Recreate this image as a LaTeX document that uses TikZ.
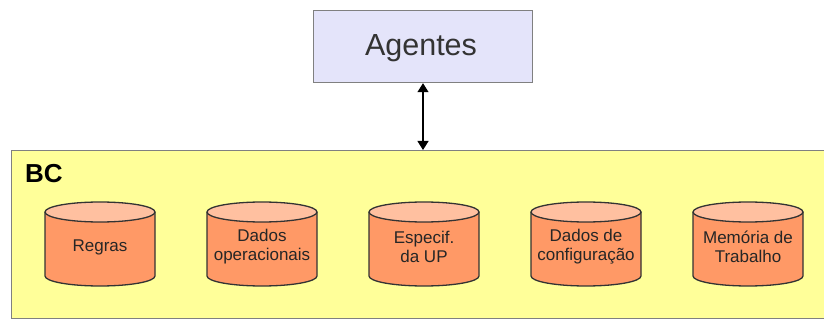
\documentclass[tikz,border=0pt]{standalone}
\usepackage{fontspec}
\setmainfont{Liberation Sans}
\usetikzlibrary{arrows.meta}
\definecolor{agentfill}{RGB}{228,228,250}
\definecolor{bcfill}{RGB}{255,255,153}
\definecolor{dbbody}{RGB}{255,153,102}
\definecolor{dbtop}{RGB}{255,192,160}
\definecolor{frame}{RGB}{128,128,128}
\definecolor{dbline}{RGB}{51,51,51}
\tikzset{
  agentbox/.style={draw=frame, line width=1.2pt, fill=agentfill},
  bcbox/.style={draw=frame, line width=1pt, fill=bcfill},
  dbshape/.style={draw=dbline, line width=1.3pt},
  dblabel/.style={align=center, text=black!85, font=\fontsize{17}{19}\selectfont},
  link/.style={line width=1.2pt, {Triangle[width=11pt,length=9pt]}-{Triangle[width=11pt,length=9pt]}}
}
\begin{document}
\begin{tikzpicture}[x=1pt,y=-1pt]
\useasboundingbox (0,0) rectangle (824,320);
% knowledge base frame
\node[bcbox, anchor=north west, minimum width=830pt, minimum height=168pt, inner sep=0pt] (bc) at (11,150) {};
\node[anchor=base west, inner sep=0pt, font=\fontsize{26}{30}\selectfont\bfseries] (bclabel) at (25,183) {BC};
% agents box
\node[agentbox, anchor=north west, minimum width=219pt, minimum height=72pt, inner sep=0pt] (agentes) at (313,10) {};
\node[anchor=base, inner sep=0pt, text=black!80, font=\fontsize{30.5}{34}\selectfont] (agtext) at (421,56) {Agentes};
\coordinate (bctop) at (423,150);
\draw[link] (agentes.south -| bctop) -- (bctop);
% databases
\foreach \cx/\name/\txt in {100/regras/Regras, 262/dados/Dados\\operacionais, 424/especif/Especif.\\da UP, 586/config/Dados de\\configuração, 748/memoria/Memória de\\Trabalho}{
  \fill[dbbody] (\cx-55,212) -- (\cx-55,276) arc[start angle=180, end angle=0, x radius=55, y radius=10] -- (\cx+55,212) -- cycle;
  \draw[dbshape] (\cx-55,212) -- (\cx-55,276) arc[start angle=180, end angle=0, x radius=55, y radius=10] -- (\cx+55,212);
  \draw[dbshape, fill=dbtop] (\cx,212) ellipse[x radius=55, y radius=10];
  \node[dblabel] (\name) at (\cx,247) {\txt};
}
\end{tikzpicture}
\end{document}
